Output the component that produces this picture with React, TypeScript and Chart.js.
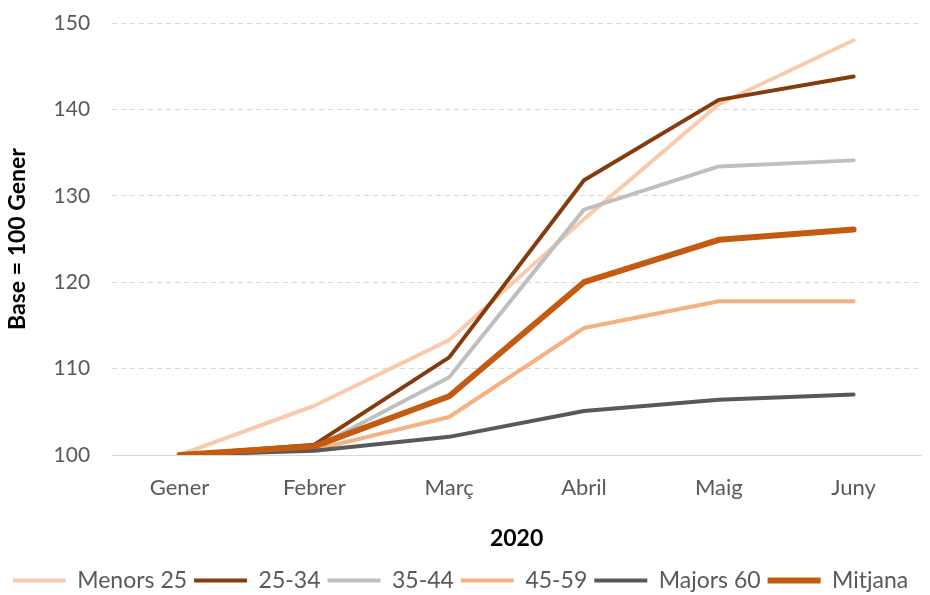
import React, { useEffect, useRef } from "react";
import { Chart, registerables } from "chart.js";

Chart.register(...registerables);

const months = ["Gener", "Febrer", "Març", "Abril", "Maig", "Juny"];
const menors25 = [100, 105.7, 113.3, 127.3, 140.6, 148.0];
const g2534 = [100, 101.2, 111.3, 131.8, 141.1, 143.8];
const g3544 = [100, 100.8, 109.0, 128.4, 133.4, 134.1];
const g4559 = [100, 100.6, 104.4, 114.7, 117.8, 117.8];
const majors60 = [100, 100.5, 102.1, 105.1, 106.4, 107.0];
const mitjana = [100, 101.0, 106.8, 120.0, 124.9, 126.1];
const yTicks = [100, 110, 120, 130, 140, 150];

const seriesNames = ["Menors 25", "25-34", "35-44", "45-59", "Majors 60", "Mitjana"];
const seriesData = [menors25, g2534, g3544, g4559, majors60, mitjana];
const seriesColors = ["#F8CBAD", "#843C0C", "#BFBFBF", "#F4B183", "#595959", "#C55A11"];
const seriesWidths = [4, 4, 4, 4, 4, 6];

export default function App() {
  const ref = useRef<HTMLCanvasElement>(null);
  useEffect(() => {
    if (!ref.current) return;
    const chart = new Chart(ref.current, {
      type: "line",
      data: {
        labels: months,
        datasets: seriesNames.map((name, i) => ({
          label: name,
          data: seriesData[i],
          borderColor: seriesColors[i],
          backgroundColor: seriesColors[i],
          borderWidth: seriesWidths[i],
          borderCapStyle: "round" as const,
          borderJoinStyle: "round" as const,
          pointRadius: 0,
          pointHoverRadius: 0,
          tension: 0,
          fill: false,
          order: seriesNames.length - i,
          pointStyle: "line" as const,
        })),
      },
      options: {
        responsive: false,
        animation: false,
        layout: { padding: { top: 23, right: 9, left: 0, bottom: -7 } },
        plugins: {
          tooltip: { enabled: false },
          legend: {
            position: "bottom",
            labels: {
              usePointStyle: true,
              pointStyleWidth: 53,
              boxHeight: 4,
              padding: 7,
              color: "#595959",
              font: { family: "Lato", size: 23 },
              sort: (a: any, b: any) => a.datasetIndex - b.datasetIndex,
            },
          },
        },
        scales: {
          x: {
            offset: true,
            grid: { display: false, drawTicks: false, offset: true },
            border: { display: true, color: "#D9D9D9", width: 1 },
            ticks: { color: "#595959", font: { family: "Lato", size: 22 }, padding: 20 },
            title: {
              display: true,
              text: "2020",
              color: "#000000",
              font: { family: "Lato", size: 23, weight: "bold" },
              padding: { top: 3, bottom: 10 },
            },
          },
          y: {
            min: 100,
            max: 150,
            afterBuildTicks: (scale: any) => {
              scale.ticks = yTicks.map((v) => ({ value: v }));
            },
            afterFit: (scale: any) => {
              scale.paddingTop = 0;
              scale.paddingBottom = 0;
            },
            grid: {
              drawTicks: false,
              color: (ctx: any) => (ctx.tick && ctx.tick.value === 100 ? "rgba(0,0,0,0)" : "#D9D9D9"),
              lineWidth: 1,
            },
            border: { display: false, dash: [5, 4] },
            ticks: { color: "#595959", font: { family: "Lato", size: 21 }, padding: 22 },
            title: {
              display: true,
              text: "Base = 100 Gener",
              color: "#000000",
              font: { family: "Lato", size: 23, weight: "bold" },
              padding: { top: 4, bottom: 0 },
            },
          },
        },
      },
    });
    return () => chart.destroy();
  }, []);
  return (
    <div style={{ position: "absolute", left: 0, top: 0, width: 930, height: 595, background: "#fff" }}>
      <canvas ref={ref} width={930} height={595} />
    </div>
  );
}
